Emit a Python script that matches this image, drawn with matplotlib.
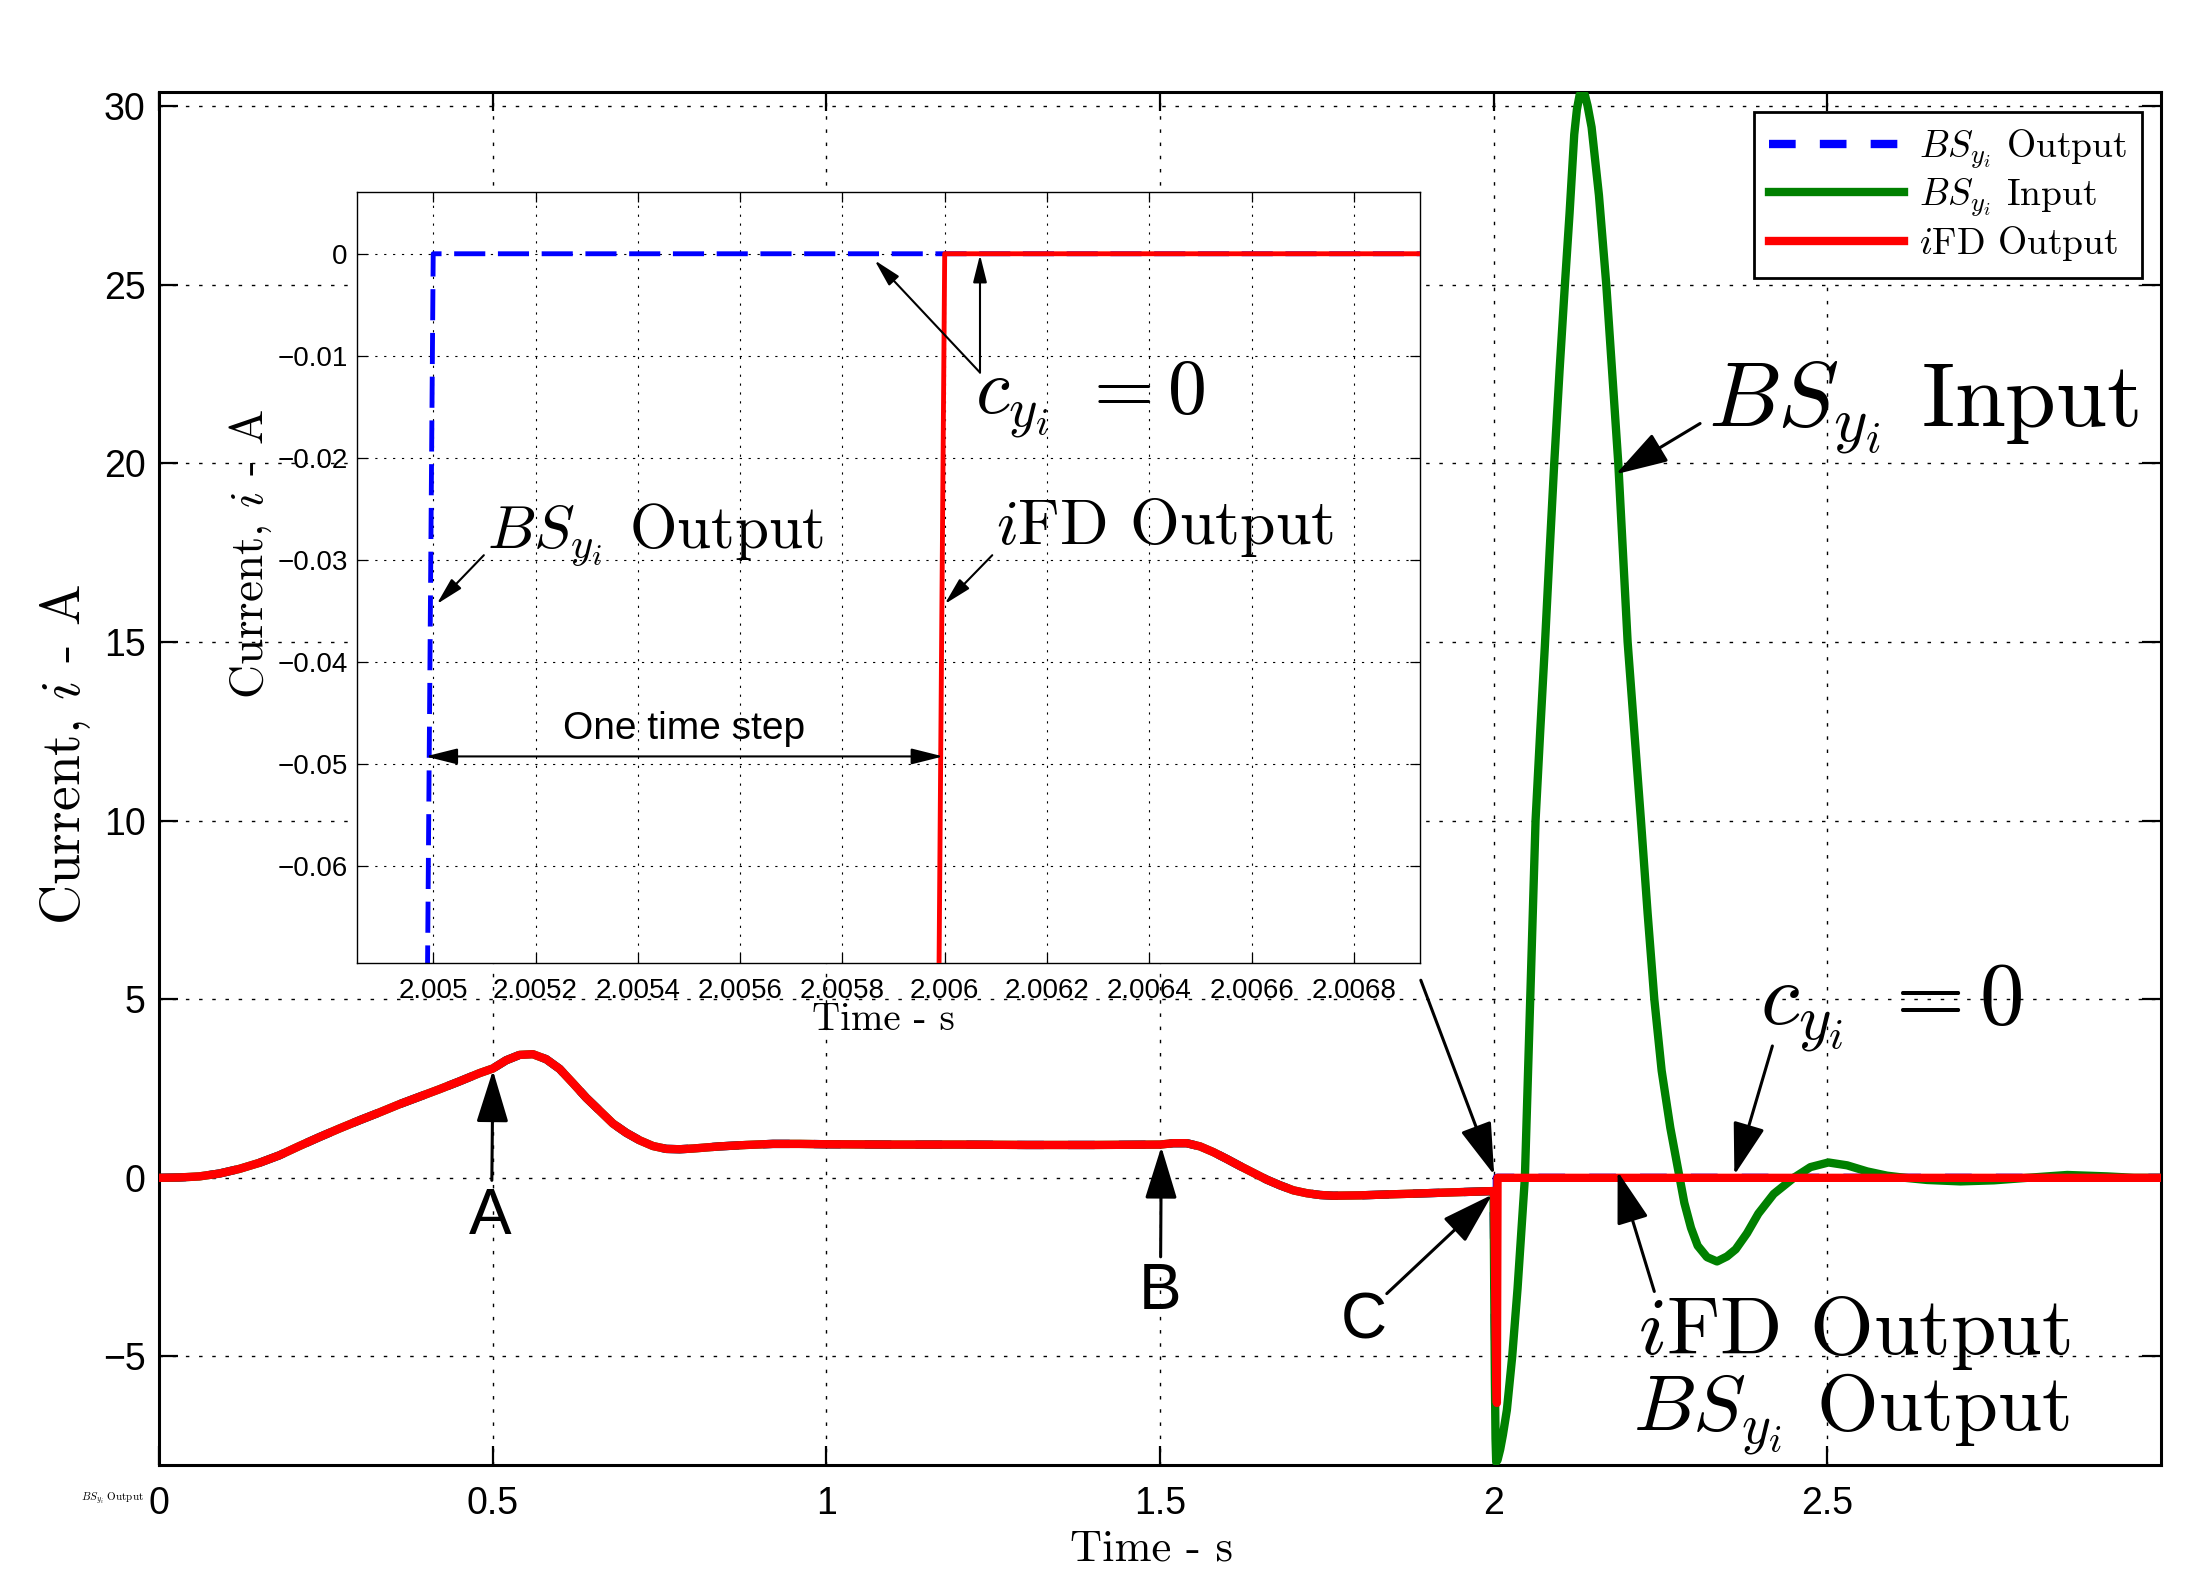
import matplotlib
matplotlib.use("Agg")
import matplotlib.pyplot as plt

plt.rcParams['mathtext.fontset'] = 'cm'
plt.rcParams['axes.unicode_minus'] = True

# pre-fault part (BS output, BS input and iFD output coincide)
t_pre = [0.00, 0.03, 0.06, 0.09, 0.12, 0.15, 0.18, 0.21, 0.24, 0.27, 0.30, 0.33,
         0.36, 0.39, 0.42, 0.45, 0.48, 0.50, 0.52, 0.54, 0.56, 0.58, 0.60, 0.62,
         0.64, 0.66, 0.68, 0.70, 0.72, 0.74, 0.76, 0.78, 0.80, 0.84, 0.88, 0.92,
         0.96, 1.00, 1.10, 1.20, 1.30, 1.40, 1.50, 1.52, 1.54, 1.56, 1.58, 1.60,
         1.62, 1.64, 1.66, 1.68, 1.70, 1.72, 1.74, 1.76, 1.80, 1.85, 1.90, 1.95,
         2.00]
i_pre = [0.00, 0.01, 0.04, 0.12, 0.25, 0.42, 0.63, 0.89, 1.14, 1.38, 1.61, 1.83,
         2.06, 2.27, 2.48, 2.70, 2.93, 3.06, 3.29, 3.44, 3.46, 3.32, 3.05, 2.65,
         2.24, 1.88, 1.52, 1.26, 1.05, 0.89, 0.81, 0.80, 0.82, 0.88, 0.92, 0.95,
         0.95, 0.94, 0.93, 0.93, 0.92, 0.92, 0.93, 0.97, 0.97, 0.88, 0.72, 0.53,
         0.33, 0.14, -0.05, -0.21, -0.35, -0.43, -0.48, -0.50, -0.49, -0.46, -0.43, -0.40,
         -0.37]

# fault clearing, 1 ms time step
t_step = [2.001, 2.002, 2.003, 2.004, 2.005, 2.006, 3.000]
bs_out_step = [-2.0, -4.0, -5.5, -6.3, 0.0, 0.0, 0.0]
ifd_out_step = [-0.37, -2.0, -4.0, -5.5, -6.3, 0.0, 0.0]

# BS input after the fault
t_in_post = [2.001, 2.002, 2.003, 2.004, 2.006, 2.010, 2.014, 2.020, 2.028, 2.036,
             2.047, 2.055, 2.063, 2.070, 2.077, 2.084, 2.091, 2.099, 2.107, 2.114,
             2.121, 2.125, 2.129, 2.133, 2.137, 2.141, 2.147, 2.158, 2.169, 2.178,
             2.187, 2.194, 2.201, 2.211, 2.221, 2.231, 2.241, 2.252, 2.265, 2.278,
             2.286, 2.296, 2.306, 2.320, 2.335, 2.350, 2.363, 2.380, 2.397, 2.420,
             2.450, 2.475, 2.502, 2.530, 2.560, 2.590, 2.617, 2.650, 2.700, 2.750,
             2.800, 2.860, 2.920, 2.960, 3.000]
bs_in_post = [-3.0, -5.6, -7.3, -7.95, -7.9, -7.6, -7.2, -6.5, -5.0, -3.1,
              0.0, 5.0, 10.0, 12.5, 14.9, 17.5, 20.0, 22.6, 25.0, 27.0,
              29.2, 29.9, 30.3, 30.38, 30.3, 30.0, 29.4, 27.5, 25.0, 22.5,
              20.0, 17.5, 15.0, 12.5, 10.0, 7.4, 5.0, 3.0, 1.4, 0.1,
              -0.7, -1.4, -1.9, -2.22, -2.34, -2.2, -2.0, -1.55, -1.0, -0.45,
              0.0, 0.3, 0.43, 0.35, 0.18, 0.06, 0.0, -0.06, -0.1, -0.07,
              0.0, 0.08, 0.04, 0.0, 0.0]

t_bs_out = t_pre + t_step
bs_out = i_pre + bs_out_step
t_ifd = t_pre + t_step
ifd_out = i_pre + ifd_out_step
t_bs_in = t_pre + t_in_post
bs_in = i_pre + bs_in_post

x_ticks = [0, 0.5, 1, 1.5, 2, 2.5]
x_labels = ['0', '0.5', '1', '1.5', '2', '2.5']
y_ticks = [-5, 0, 5, 10, 15, 20, 25, 30]

ins_x_ticks = [2.005, 2.0052, 2.0054, 2.0056, 2.0058, 2.006, 2.0062, 2.0064, 2.0066, 2.0068]
ins_x_labels = ['2.005', '2.0052', '2.0054', '2.0056', '2.0058', '2.006',
                '2.0062', '2.0064', '2.0066', '2.0068']
ins_y_ticks = [0, -0.01, -0.02, -0.03, -0.04, -0.05, -0.06]
ins_y_labels = ['0', '\u22120.01', '\u22120.02', '\u22120.03', '\u22120.04', '\u22120.05', '\u22120.06']

SANS = 'Liberation Sans'
CM = 'cmr10'

fig = plt.figure(figsize=(21.94, 15.88), dpi=100)
ax = fig.add_axes([0.0726, 0.0776, 0.9122, 0.8643])

ax.plot(t_bs_out, bs_out, color='b', lw=6, dashes=(3.2, 2.9), label=r'$BS_{y_i}$ Output', zorder=2)
ax.plot(t_bs_in, bs_in, color='#008000', lw=6, label=r'$BS_{y_i}$ Input', zorder=3)
ax.plot(t_ifd, ifd_out, color='r', lw=6, label=r'$i$FD Output', zorder=4)

ax.set_xlim(0, 3.0)
ax.set_ylim(-8.03, 30.38)
ax.set_xticks(x_ticks)
ax.set_xticklabels(x_labels, fontfamily=SANS, fontsize=27)
ax.set_yticks(y_ticks)
ax.set_yticklabels([str(v) if v >= 0 else '\u2212' + str(-v) for v in y_ticks],
                   fontfamily=SANS, fontsize=27)
ax.tick_params(axis='both', direction='in', length=14, width=1.6, top=True, right=True)
ax.tick_params(axis='x', pad=15)
ax.tick_params(axis='y', pad=10)
for s in ax.spines.values():
    s.set_linewidth(2.2)
ax.grid(True, color='k', lw=1.0, linestyle=(0, (2.5, 7)))

ax.set_xlabel('Time - s', fontfamily=CM, fontsize=32)
ax.xaxis.set_label_coords(0.496, -0.047)
ax.set_ylabel('Current, $i$ - A', fontfamily=CM, fontsize=40)
ax.yaxis.set_label_coords(-0.033, 0.518)

leg = ax.legend(loc='upper right', bbox_to_anchor=(0.9762, 0.9293), bbox_transform=fig.transFigure,
                borderaxespad=0, fancybox=False, framealpha=1, edgecolor='k',
                prop={'family': CM, 'size': 27}, handlelength=3.6, handletextpad=0.4,
                labelspacing=0.15, borderpad=0.4)
leg.get_frame().set_linewidth(2)
leg.set_zorder(20)

big = dict(arrowstyle='-|>,head_length=1.3,head_width=0.4', lw=2.2, color='k',
           shrinkA=0, shrinkB=0, mutation_scale=25)

ax.text(2.322, 21.03, r'$BS_{y_i}$ Input', fontfamily=CM, fontsize=66, va='baseline', ha='left', zorder=10)
ax.annotate('', xy=(2.1832, 19.69), xytext=(2.3096, 21.11), arrowprops=big, zorder=10)

ax.text(2.400, 4.30, r'$c_{y_i}\ = 0$', fontsize=64, va='baseline', ha='left', zorder=10)
ax.annotate('', xy=(2.361, 0.08), xytext=(2.418, 3.69), arrowprops=big, zorder=10)

ax.text(2.216, -4.92, r'$i$FD Output', fontfamily=CM, fontsize=59, va='baseline', ha='left', zorder=10)
ax.text(2.209, -7.07, r'$BS_{y_i}$ Output', fontfamily=CM, fontsize=57, va='baseline', ha='left', zorder=10)
ax.annotate('', xy=(2.186, 0.18), xytext=(2.241, -3.18), arrowprops=big, zorder=10)

ax.annotate('', xy=(2.001, 0.08), xytext=(1.891, 5.53), arrowprops=big, zorder=10)

ax.text(1.805, -4.5, 'C', fontfamily=SANS, fontsize=46, va='baseline', ha='center', zorder=10)
ax.annotate('', xy=(1.998, -0.47), xytext=(1.840, -3.24), arrowprops=big, zorder=10)
ax.text(1.500, -3.68, 'B', fontfamily=SANS, fontsize=46, va='baseline', ha='center', zorder=10)
ax.annotate('', xy=(1.502, 0.87), xytext=(1.501, -2.21), arrowprops=big, zorder=10)
ax.text(0.496, -1.58, 'A', fontfamily=SANS, fontsize=46, va='baseline', ha='center', zorder=10)
ax.annotate('', xy=(0.5001, 3.01), xytext=(0.4985, -0.07), arrowprops=big, zorder=10)

fig.text(0.037, 0.055, r'$BS_{y_i}$ Output', fontfamily=CM, fontsize=8)

# zoomed inset
ins = fig.add_axes([0.1629, 0.3936, 0.4845, 0.4858], zorder=5)
ins.set_facecolor('white')
ins.plot(t_bs_out, bs_out, color='b', lw=3.5, dashes=(6.4, 2.6), zorder=2)
ins.plot(t_ifd, ifd_out, color='r', lw=3.5, zorder=3)
ins.set_xlim(2.0048518, 2.00693)
ins.set_ylim(-0.0695, 0.0061)
ins.set_xticks(ins_x_ticks)
ins.set_xticklabels(ins_x_labels, fontfamily=SANS, fontsize=20)
ins.set_yticks(ins_y_ticks)
ins.set_yticklabels(ins_y_labels, fontfamily=SANS, fontsize=20)
ins.tick_params(axis='both', direction='in', length=7, width=0.9, top=True, right=True)
ins.tick_params(axis='x', pad=11)
ins.tick_params(axis='y', pad=7)
for s in ins.spines.values():
    s.set_linewidth(1.0)
ins.grid(True, color='k', lw=0.8, linestyle=(0, (2, 6)))
ins.set_xlabel('Time - s', fontfamily=CM, fontsize=28)
ins.xaxis.set_label_coords(0.4945, -0.051)
ins.set_ylabel('Current, $i$ - A', fontfamily=CM, fontsize=34)
ins.yaxis.set_label_coords(-0.078, 0.53)

small = dict(arrowstyle='-|>,head_length=1.2,head_width=0.3', lw=1.5, color='k',
             shrinkA=0, shrinkB=0, mutation_scale=14)

ins.text(2.006059, -0.01562, r'$c_{y_i}\ = 0$', fontsize=56, va='baseline', ha='left', zorder=10)
ins.annotate('', xy=(2.005863, -0.00064), xytext=(2.006069, -0.01164), arrowprops=small, zorder=10)
ins.annotate('', xy=(2.006069, -0.0001), xytext=(2.006069, -0.01164), arrowprops=small, zorder=10)

ins.text(2.005106, -0.0288, r'$BS_{y_i}$ Output', fontfamily=CM, fontsize=44, va='baseline', ha='left', zorder=10)
ins.annotate('', xy=(2.005007, -0.03433), xytext=(2.005099, -0.02954), arrowprops=small, zorder=10)

ins.text(2.0061, -0.02849, r'$i$FD Output', fontfamily=CM, fontsize=46, va='baseline', ha='left', zorder=10)
ins.annotate('', xy=(2.006, -0.03433), xytext=(2.006093, -0.02954), arrowprops=small, zorder=10)

ins.text(2.00549, -0.04751, 'One time step', fontfamily=SANS, fontsize=28, va='baseline', ha='center', zorder=10)
ins.annotate('', xy=(2.005997, -0.04926), xytext=(2.004985, -0.04926),
             arrowprops=dict(arrowstyle='<|-|>,head_length=1.4,head_width=0.35', lw=1.5, color='k',
                             shrinkA=0, shrinkB=0, mutation_scale=14), zorder=10)

fig.savefig('out.png', dpi=100)
